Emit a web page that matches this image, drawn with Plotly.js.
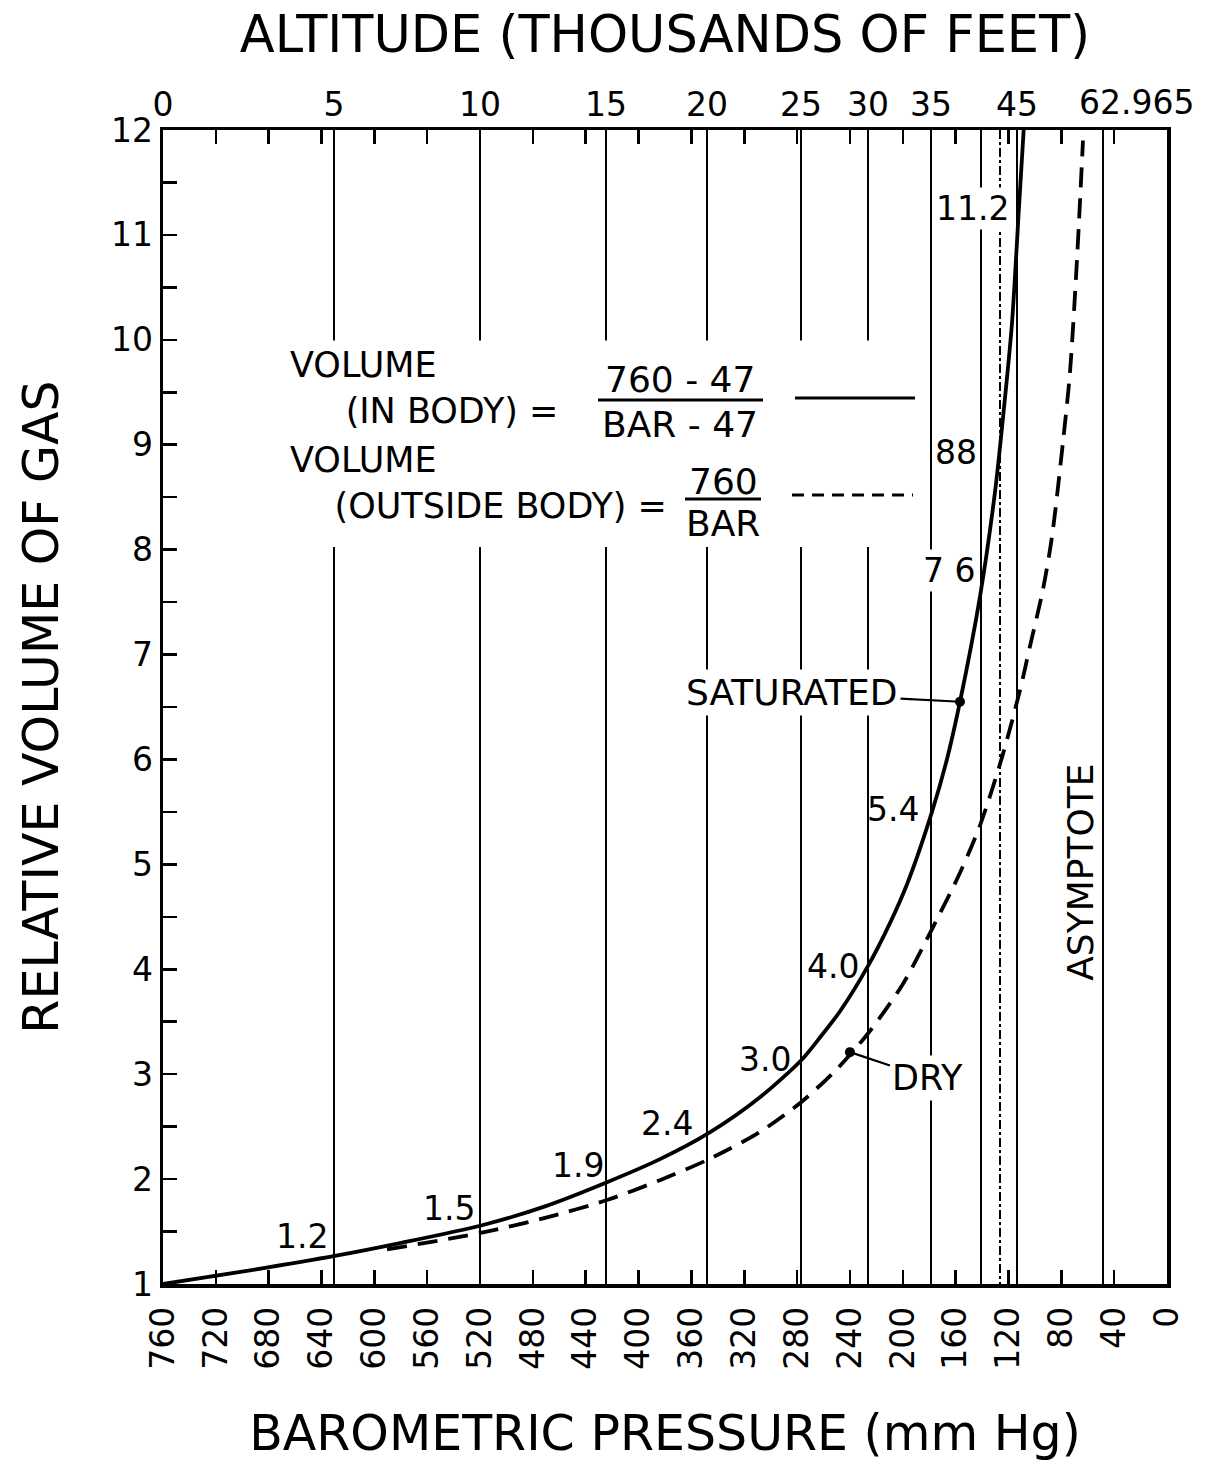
<!DOCTYPE html>
<html>
<head>
<meta charset="utf-8">
<script src="https://cdn.plot.ly/plotly-3.0.1.min.js"></script>
<style>
html,body{margin:0;padding:0;background:#fff;}
#chart{width:1205px;height:1467px;}
</style>
</head>
<body>
<div id="chart"></div>
<script>
// ---------- data ----------
// bottom axis: barometric pressure (mm Hg)
const pressureTicks = [760,720,680,640,600,560,520,480,440,400,360,320,280,240,200,160,120,80,40,0];
const pressureLabels = pressureTicks.map(String);

// top axis: altitude lines (pressure where each altitude line sits) and labels (thousands of feet)
const altitudePressure = [760, 630.6, 520.0, 424.7, 348.2, 277.1, 226.4, 178.7, 140.8, 113.6, 48.5];
const altitudeLabels   = ['0','5','10','15','20','25','30','35','','45',''];
const dashDotPressure  = [126.4];
const asymptoteLabel   = '62.965';

// saturated gas (in body): volume = (760-47)/(BAR-47)
const satPressure = [760, 694.1, 629.0, 580.6, 518.5, 470.8, 423.9, 383.8, 346.7, 308.1, 276.3, 262.7, 247.5, 226.4, 209.7, 196.8, 177.9, 166.6, 156.7, 141.6, 130.2, 123.4, 117.4, 112.1, 108.5];
const satVolume   = [1.00, 1.13, 1.27, 1.39, 1.56, 1.74, 1.97, 2.19, 2.44, 2.78, 3.14, 3.35, 3.60, 4.03, 4.44, 4.81, 5.50, 6.00, 6.55, 7.55, 8.55, 9.35, 10.15, 11.25, 12.00];

// dry gas (outside body): volume = 760/BAR
const dryPressure = [590.4, 518.5, 470.8, 423.9, 383.8, 346.7, 308.1, 276.3, 249.0, 225.6, 199.9, 177.2, 156.7, 141.6, 124.9, 111.3, 103.7, 93.9, 87.1, 78.8, 73.5, 68.2, 63.6];
const dryVolume   = [1.33, 1.49, 1.63, 1.80, 1.99, 2.19, 2.45, 2.74, 3.06, 3.40, 3.86, 4.40, 4.92, 5.37, 6.02, 6.66, 7.08, 7.62, 8.12, 9.02, 9.68, 10.75, 11.90];

// labelled points
const pointPressure = [156.7, 240.0];
const pointVolume   = [6.55, 3.21];

// value labels along the saturated curve
const valueLabels   = ['1.2','1.5','1.9','2.4','3.0','4.0','5.4','7 6','88','11.2'];
const valueLabelP   = [654.8, 543.5, 445.9, 378.5, 304.3, 252.9, 207.4, 165.0, 159.7, 147.6];
const valueLabelV   = [1.45, 1.72, 2.13, 2.53, 3.14, 4.03, 5.52, 7.80, 8.93, 11.25];
const valueLabelBg  = [false,false,false,false,false,false,false,true,true,true];

const FONT = 'DejaVu Sans, Verdana, sans-serif';
const NB = '\u00a0';

// ---------- traces ----------
const traces = [
  {x: satPressure, y: satVolume, type:'scatter', mode:'lines', name:'In body (saturated)',
   line:{color:'black', width:3.8, shape:'spline', smoothing:0.8}, hoverinfo:'skip', xaxis:'x', yaxis:'y'},
  {x: dryPressure, y: dryVolume, type:'scatter', mode:'lines', name:'Outside body (dry)',
   line:{color:'black', width:3.8, dash:'20px,11px', shape:'spline', smoothing:0.8}, hoverinfo:'skip', xaxis:'x', yaxis:'y'},
  {x: pointPressure, y: pointVolume, type:'scatter', mode:'markers', name:'points',
   marker:{color:'black', size:10}, hoverinfo:'skip', xaxis:'x2', yaxis:'y'},
  {x: dashDotPressure, y: [1], type:'scatter', mode:'lines', name:'dd',
   line:{color:'rgba(0,0,0,0)'}, hoverinfo:'skip', xaxis:'x3', yaxis:'y'}
];

// ---------- annotations ----------
const annotations = [];
valueLabels.forEach((t,i)=>{
  annotations.push({x: valueLabelP[i], y: valueLabelV[i], xref:'x', yref:'y', text:t, showarrow:false,
    font:{family:FONT, size:33, color:'black'}, xanchor:'center', yanchor:'middle',
    bgcolor: valueLabelBg[i] ? 'white' : 'rgba(0,0,0,0)', borderpad:1});
});
annotations.push({x: pointPressure[0], y: pointVolume[0], xref:'x', yref:'y', text:'SATURATED',
  showarrow:true, arrowhead:0, arrowwidth:2.2, arrowcolor:'black', ax:-168, ay:-9, standoff:0,
  font:{family:FONT, size:36, color:'black'}, bgcolor:'white', borderpad:2});
annotations.push({x: pointPressure[1], y: pointVolume[1], xref:'x', yref:'y', text:'DRY',
  showarrow:true, arrowhead:0, arrowwidth:2.2, arrowcolor:'black', ax:78, ay:26, standoff:0,
  font:{family:FONT, size:35, color:'black'}, bgcolor:'white', borderpad:2});
annotations.push({x: 65.1, y: 4.92, xref:'x', yref:'y', text:'ASYMPTOTE', textangle:-90, showarrow:false,
  font:{family:FONT, size:36, color:'black'}, xanchor:'center', yanchor:'middle'});
annotations.push({x: 0.970, y: 1.0234, xref:'paper', yref:'paper', text: asymptoteLabel, showarrow:false,
  font:{family:FONT, size:33, color:'black'}, xanchor:'center', yanchor:'middle'});

// legend block (formula text)
annotations.push({x:0.1245, y:0.7764, xref:'paper', yref:'paper', xanchor:'left', yanchor:'middle', align:'left',
  text:'VOLUME<br>' + NB.repeat(5) + '(IN BODY) =', showarrow:false,
  font:{family:FONT, size:35, color:'black'}});
annotations.push({x:0.1245, y:0.6937, xref:'paper', yref:'paper', xanchor:'left', yanchor:'middle', align:'left',
  text:'VOLUME<br>' + NB.repeat(4) + '(OUTSIDE BODY) =', showarrow:false,
  font:{family:FONT, size:35, color:'black'}});
const fractionText = [
  ['760 - 47', 0.5149, 0.7840],
  ['BAR - 47', 0.5149, 0.7444],
  ['760', 0.5578, 0.6950],
  ['BAR', 0.5578, 0.6586]
];
fractionText.forEach(([t,x,y])=>{
  annotations.push({x:x, y:y, xref:'paper', yref:'paper', text:t, showarrow:false,
    font:{family:FONT, size:36, color:'black'}, xanchor:'center', yanchor:'middle'});
});

// ---------- shapes ----------
const shapes = [
  // blank area behind the formula block (cuts the altitude lines)
  {type:'rect', xref:'paper', yref:'paper', x0:0.087, x1:0.735, y0:0.6386, y1:0.8175,
   fillcolor:'white', line:{width:0}, layer:'above'},
  // fraction bars
  {type:'line', xref:'paper', yref:'paper', x0:0.4333, x1:0.5976, y0:0.7660, y1:0.7660, line:{color:'black', width:3}, layer:'above'},
  {type:'line', xref:'paper', yref:'paper', x0:0.5199, x1:0.5956, y0:0.6802, y1:0.6802, line:{color:'black', width:3}, layer:'above'},
  // line style samples
  {type:'line', xref:'paper', yref:'paper', x0:0.6295, x1:0.7490, y0:0.7678, y1:0.7678, line:{color:'black', width:3}, layer:'above'},
  {type:'line', xref:'paper', yref:'paper', x0:0.6265, x1:0.7470, y0:0.6837, y1:0.6837, line:{color:'black', width:3, dash:'12px,8px'}, layer:'above'}
];

// ---------- layout ----------
const layout = {
  width:1205, height:1467,
  margin:{l:163, r:38, t:130, b:183, pad:0},
  paper_bgcolor:'white', plot_bgcolor:'white',
  showlegend:false,
  font:{family:FONT, color:'black'},
  xaxis:{
    range:[760,0], autorange:false, type:'linear',
    tickmode:'array', tickvals:pressureTicks, ticktext:pressureLabels,
    tickangle:-90, tickfont:{family:FONT, size:33, color:'black'},
    ticks:'inside', ticklen:14, tickwidth:2.5, tickcolor:'black',
    ticklabelstandoff:6,
    showline:true, linecolor:'black', linewidth:3.5, mirror:'ticks',
    showgrid:false, zeroline:false,
    title:{text:'BAROMETRIC PRESSURE (mm Hg)', font:{family:FONT, size:49, color:'black'}, standoff:48}
  },
  xaxis2:{
    overlaying:'x', side:'top', anchor:'y',
    range:[760,0], autorange:false, type:'linear',
    tickmode:'array', tickvals:altitudePressure, ticktext:altitudeLabels,
    tickfont:{family:FONT, size:33, color:'black'}, ticks:'', ticklabelstandoff:6,
    showline:false, zeroline:false,
    showgrid:true, gridcolor:'black', gridwidth:2.8,
    title:{text:'ALTITUDE (THOUSANDS OF FEET)', font:{family:FONT, size:51, color:'black'}, standoff:16}
  },
  xaxis3:{
    overlaying:'x', side:'top', anchor:'y',
    range:[760,0], autorange:false, type:'linear',
    tickmode:'array', tickvals:dashDotPressure, showticklabels:false, ticks:'',
    showline:false, zeroline:false,
    showgrid:true, gridcolor:'black', gridwidth:2.8, griddash:'dashdot'
  },
  yaxis:{
    range:[1,12], autorange:false,
    tickmode:'linear', tick0:1, dtick:1,
    tickfont:{family:FONT, size:33, color:'black'},
    ticks:'inside', ticklen:14, tickwidth:2.5, tickcolor:'black',
    ticklabelstandoff:0,
    minor:{dtick:0.5, tick0:1, ticks:'inside', ticklen:14, tickwidth:2.5, tickcolor:'black', showgrid:false},
    showline:true, linecolor:'black', linewidth:3.5, mirror:true,
    showgrid:false, zeroline:false,
    title:{text:'RELATIVE VOLUME OF GAS', font:{family:FONT, size:49, color:'black'}, standoff:38}
  },
  annotations: annotations,
  shapes: shapes
};

Plotly.newPlot('chart', traces, layout, {staticPlot:true, displayModeBar:false});
</script>
</body>
</html>
